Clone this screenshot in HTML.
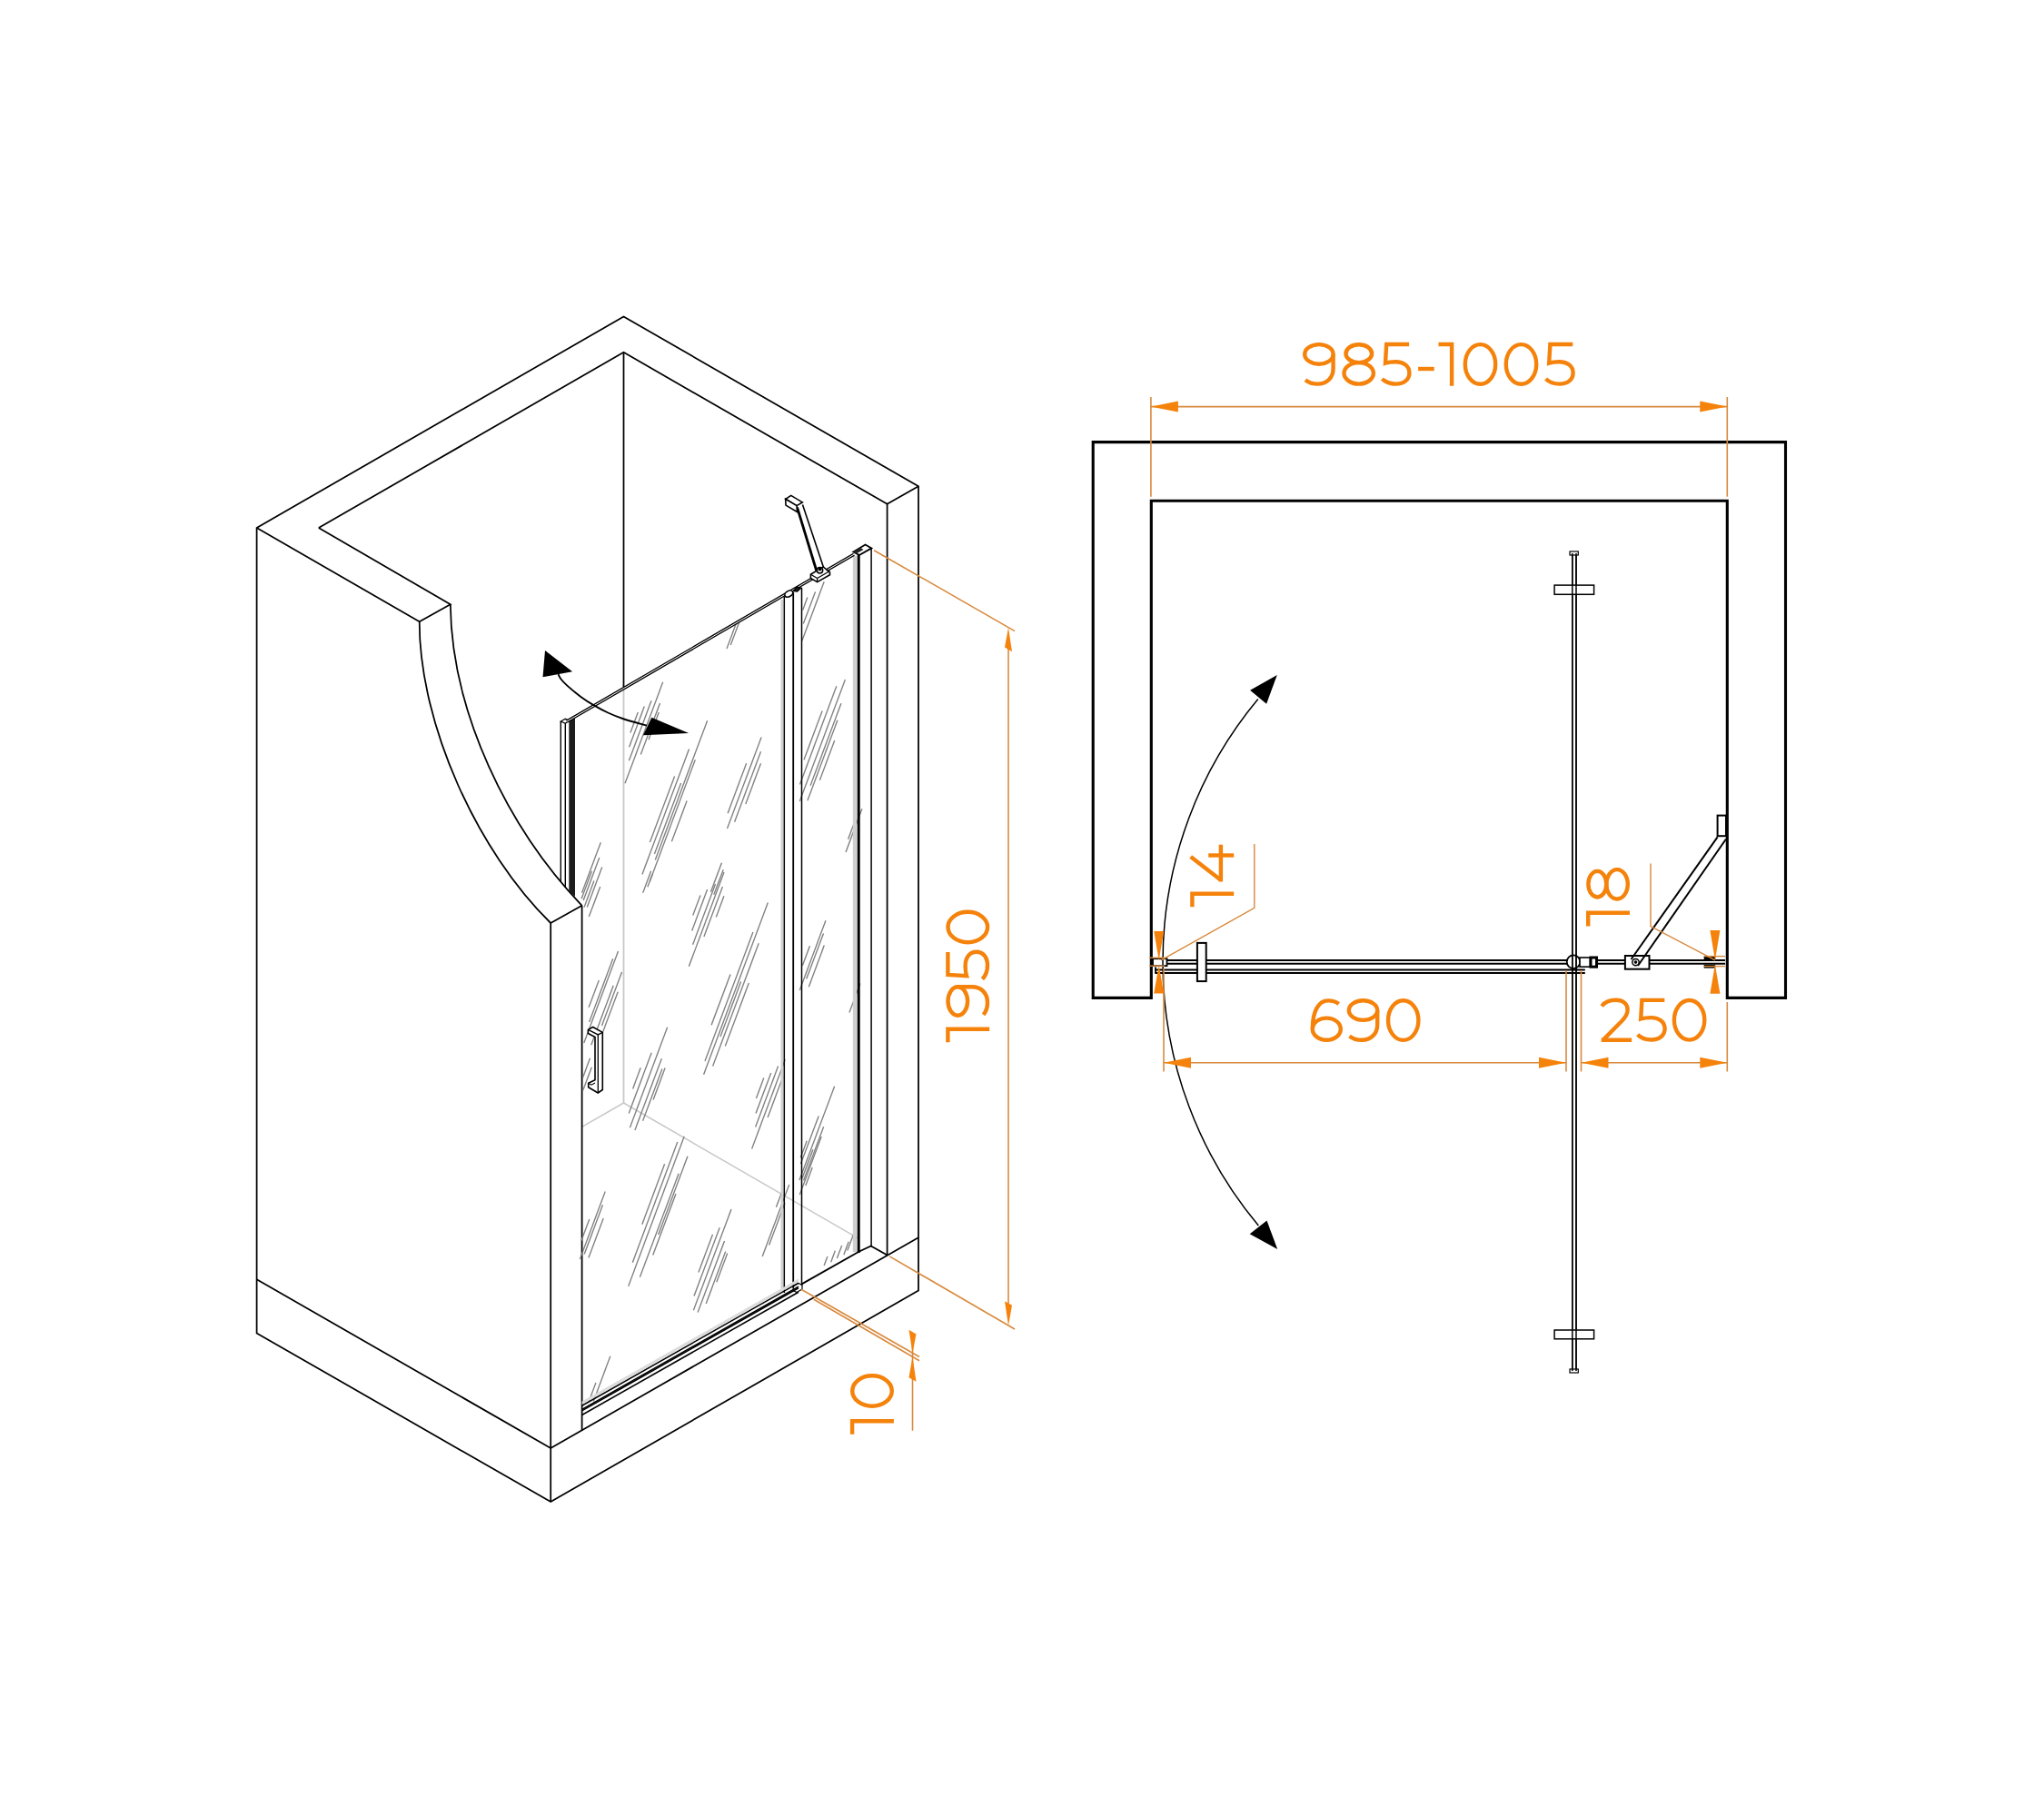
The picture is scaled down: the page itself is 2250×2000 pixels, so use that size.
<!DOCTYPE html>
<html><head><meta charset="utf-8"><style>
html,body{margin:0;padding:0;background:#fff;}
svg{display:block;}
text{font-family:"Liberation Sans",sans-serif;}
</style></head><body>
<svg width="2250" height="2000" viewBox="0 0 2250 2000">
<rect width="2250" height="2000" fill="#fff"/>
<line x1="686.5" y1="754" x2="686.5" y2="1214" stroke="#c8c8c8" stroke-width="1.8" />
<line x1="640.6" y1="1240.3" x2="686.5" y2="1214" stroke="#c8c8c8" stroke-width="1.5" />
<line x1="686.5" y1="1214" x2="944" y2="1362.6" stroke="#c8c8c8" stroke-width="1.5" />
<polygon points="282.6,581 686.5,348.4 1011,535.3 1011,1420.6 606.2,1653.1 282.6,1467.4" fill="none" stroke="#000" stroke-width="1.75" stroke-linejoin="miter" />
<polyline points="350.8,581 686.5,387.8 976.6,554.8 1011,535.3" fill="none" stroke="#000" stroke-width="1.75" stroke-linejoin="miter" />
<polyline points="282.6,581 461.7,684.2 495.8,665.2 350.8,581" fill="none" stroke="#000" stroke-width="1.75" stroke-linejoin="miter" />
<path d="M461.7,684.2 C461.6,797.8 526.3,938.1 606.2,1016" fill="none" stroke="#000" stroke-width="1.75" />
<path d="M495.8,665.2 C497.1,784.2 559,911.5 640.6,996.8" fill="none" stroke="#000" stroke-width="1.75" />
<line x1="606.2" y1="1016" x2="640.6" y2="996.8" stroke="#000" stroke-width="1.75" />
<line x1="606.2" y1="1016" x2="606.2" y2="1653.1" stroke="#000" stroke-width="1.75" />
<line x1="640.6" y1="996.8" x2="640.6" y2="1574.7" stroke="#000" stroke-width="1.75" />
<line x1="976.6" y1="554.8" x2="976.6" y2="1381.5" stroke="#000" stroke-width="1.75" />
<line x1="686.5" y1="387.8" x2="686.5" y2="756" stroke="#000" stroke-width="1.75" />
<polyline points="282.6,1408.2 606.2,1594 1010.9,1362.2" fill="none" stroke="#000" stroke-width="1.75" stroke-linejoin="miter" />
<line x1="800.0" y1="714.0" x2="810.5" y2="685.8" stroke="#808080" stroke-width="1.35" />
<line x1="804.3" y1="709.9" x2="814.0" y2="683.9" stroke="#808080" stroke-width="1.35" />
<line x1="688.0" y1="862.3" x2="729.7" y2="750.8" stroke="#808080" stroke-width="1.35" />
<line x1="692.4" y1="837.2" x2="717.0" y2="771.2" stroke="#808080" stroke-width="1.35" />
<line x1="692.6" y1="822.3" x2="709.3" y2="777.6" stroke="#808080" stroke-width="1.35" />
<line x1="693.9" y1="806.5" x2="702.3" y2="784.1" stroke="#808080" stroke-width="1.35" />
<line x1="705.3" y1="830.6" x2="726.5" y2="774.1" stroke="#808080" stroke-width="1.35" />
<line x1="714.0" y1="814.2" x2="725.3" y2="783.9" stroke="#808080" stroke-width="1.35" />
<line x1="706.9" y1="962.6" x2="758.5" y2="824.6" stroke="#808080" stroke-width="1.35" />
<line x1="715.4" y1="927.0" x2="742.6" y2="854.5" stroke="#808080" stroke-width="1.35" />
<line x1="715.2" y1="970.6" x2="765.3" y2="836.2" stroke="#808080" stroke-width="1.35" />
<line x1="721.3" y1="946.6" x2="778.6" y2="793.2" stroke="#808080" stroke-width="1.35" />
<line x1="739.4" y1="926.2" x2="756.1" y2="881.5" stroke="#808080" stroke-width="1.35" />
<line x1="720.4" y1="940.1" x2="749.6" y2="861.9" stroke="#808080" stroke-width="1.35" />
<line x1="800.5" y1="912.0" x2="838.1" y2="811.5" stroke="#808080" stroke-width="1.35" />
<line x1="801.1" y1="895.3" x2="821.6" y2="840.3" stroke="#808080" stroke-width="1.35" />
<line x1="808.6" y1="904.7" x2="837.5" y2="827.2" stroke="#808080" stroke-width="1.35" />
<line x1="820.8" y1="885.0" x2="837.5" y2="840.3" stroke="#808080" stroke-width="1.35" />
<line x1="880.3" y1="882.1" x2="930.4" y2="747.9" stroke="#808080" stroke-width="1.35" />
<line x1="888.9" y1="881.2" x2="921.9" y2="792.7" stroke="#808080" stroke-width="1.35" />
<line x1="880.5" y1="863.4" x2="920.8" y2="755.2" stroke="#808080" stroke-width="1.35" />
<line x1="885.0" y1="836.2" x2="905.1" y2="782.5" stroke="#808080" stroke-width="1.35" />
<line x1="902.4" y1="858.8" x2="918.7" y2="815.1" stroke="#808080" stroke-width="1.35" />
<line x1="892.1" y1="864.7" x2="925.9" y2="774.3" stroke="#808080" stroke-width="1.35" />
<line x1="882.9" y1="705.2" x2="907.2" y2="640.3" stroke="#808080" stroke-width="1.35" />
<line x1="884.3" y1="686.6" x2="897.5" y2="651.4" stroke="#808080" stroke-width="1.35" />
<line x1="883.7" y1="671.4" x2="888.8" y2="657.6" stroke="#808080" stroke-width="1.35" />
<line x1="640.5" y1="982.8" x2="661.3" y2="927.2" stroke="#808080" stroke-width="1.35" />
<line x1="642.2" y1="991.0" x2="659.8" y2="944.0" stroke="#808080" stroke-width="1.35" />
<line x1="646.3" y1="998.5" x2="662.7" y2="954.5" stroke="#808080" stroke-width="1.35" />
<line x1="640.1" y1="989.3" x2="651.5" y2="958.7" stroke="#808080" stroke-width="1.35" />
<line x1="643.1" y1="998.4" x2="653.9" y2="969.6" stroke="#808080" stroke-width="1.35" />
<line x1="648.3" y1="1009.1" x2="660.7" y2="975.9" stroke="#808080" stroke-width="1.35" />
<line x1="782.4" y1="981.8" x2="794.4" y2="949.8" stroke="#808080" stroke-width="1.35" />
<line x1="785.8" y1="984.8" x2="796.2" y2="957.2" stroke="#808080" stroke-width="1.35" />
<line x1="707.7" y1="982.8" x2="716.6" y2="958.7" stroke="#808080" stroke-width="1.35" />
<line x1="712.9" y1="976.2" x2="718.1" y2="962.3" stroke="#808080" stroke-width="1.35" />
<line x1="931.0" y1="938.1" x2="948.9" y2="890.2" stroke="#808080" stroke-width="1.35" />
<line x1="933.6" y1="923.8" x2="940.8" y2="904.5" stroke="#808080" stroke-width="1.35" />
<line x1="758.3" y1="1063.8" x2="797.0" y2="960.1" stroke="#808080" stroke-width="1.35" />
<line x1="762.6" y1="1039.7" x2="787.5" y2="972.9" stroke="#808080" stroke-width="1.35" />
<line x1="761.7" y1="1024.4" x2="778.6" y2="978.9" stroke="#808080" stroke-width="1.35" />
<line x1="762.7" y1="1007.6" x2="771.0" y2="985.4" stroke="#808080" stroke-width="1.35" />
<line x1="774.9" y1="1031.0" x2="795.4" y2="976.0" stroke="#808080" stroke-width="1.35" />
<line x1="788.3" y1="1009.5" x2="796.9" y2="986.3" stroke="#808080" stroke-width="1.35" />
<line x1="642.8" y1="1148.0" x2="680.5" y2="1047.1" stroke="#808080" stroke-width="1.35" />
<line x1="648.6" y1="1124.9" x2="674.7" y2="1055.2" stroke="#808080" stroke-width="1.35" />
<line x1="648.1" y1="1108.7" x2="659.3" y2="1078.9" stroke="#808080" stroke-width="1.35" />
<line x1="661.8" y1="1140.8" x2="680.2" y2="1091.7" stroke="#808080" stroke-width="1.35" />
<line x1="662.5" y1="1128.9" x2="684.5" y2="1070.1" stroke="#808080" stroke-width="1.35" />
<line x1="650.8" y1="1150.3" x2="675.2" y2="1084.7" stroke="#808080" stroke-width="1.35" />
<line x1="774.6" y1="1182.8" x2="845.3" y2="993.6" stroke="#808080" stroke-width="1.35" />
<line x1="776.0" y1="1168.0" x2="828.9" y2="1026.1" stroke="#808080" stroke-width="1.35" />
<line x1="783.1" y1="1128.2" x2="804.0" y2="1072.5" stroke="#808080" stroke-width="1.35" />
<line x1="784.6" y1="1173.6" x2="835.2" y2="1038.3" stroke="#808080" stroke-width="1.35" />
<line x1="798.3" y1="1151.5" x2="824.3" y2="1082.0" stroke="#808080" stroke-width="1.35" />
<line x1="793.0" y1="1141.1" x2="815.6" y2="1080.6" stroke="#808080" stroke-width="1.35" />
<line x1="693.4" y1="1241.2" x2="734.6" y2="1130.7" stroke="#808080" stroke-width="1.35" />
<line x1="696.6" y1="1198.5" x2="705.2" y2="1175.3" stroke="#808080" stroke-width="1.35" />
<line x1="698.9" y1="1244.0" x2="728.3" y2="1165.3" stroke="#808080" stroke-width="1.35" />
<line x1="707.6" y1="1233.8" x2="728.9" y2="1176.5" stroke="#808080" stroke-width="1.35" />
<line x1="692.2" y1="1225.4" x2="717.2" y2="1158.7" stroke="#808080" stroke-width="1.35" />
<line x1="719.1" y1="1210.4" x2="732.1" y2="1175.4" stroke="#808080" stroke-width="1.35" />
<line x1="827.6" y1="1264.6" x2="864.3" y2="1166.2" stroke="#808080" stroke-width="1.35" />
<line x1="831.6" y1="1240.4" x2="856.6" y2="1173.6" stroke="#808080" stroke-width="1.35" />
<line x1="832.0" y1="1225.6" x2="848.7" y2="1180.9" stroke="#808080" stroke-width="1.35" />
<line x1="832.4" y1="1208.9" x2="840.8" y2="1186.4" stroke="#808080" stroke-width="1.35" />
<line x1="845.1" y1="1229.9" x2="861.9" y2="1185.1" stroke="#808080" stroke-width="1.35" />
<line x1="880.3" y1="1090.1" x2="908.9" y2="1013.3" stroke="#808080" stroke-width="1.35" />
<line x1="887.7" y1="1077.5" x2="906.5" y2="1027.4" stroke="#808080" stroke-width="1.35" />
<line x1="890.3" y1="1086.2" x2="907.3" y2="1040.6" stroke="#808080" stroke-width="1.35" />
<line x1="883.4" y1="1062.8" x2="891.4" y2="1041.2" stroke="#808080" stroke-width="1.35" />
<line x1="880.0" y1="1299.0" x2="918.6" y2="1195.8" stroke="#808080" stroke-width="1.35" />
<line x1="881.4" y1="1281.1" x2="901.2" y2="1228.4" stroke="#808080" stroke-width="1.35" />
<line x1="884.5" y1="1299.6" x2="906.6" y2="1240.2" stroke="#808080" stroke-width="1.35" />
<line x1="886.8" y1="1304.9" x2="894.2" y2="1285.1" stroke="#808080" stroke-width="1.35" />
<line x1="934.9" y1="1114.5" x2="946.9" y2="1082.4" stroke="#808080" stroke-width="1.35" />
<line x1="638.4" y1="1385.9" x2="666.2" y2="1311.5" stroke="#808080" stroke-width="1.35" />
<line x1="647.9" y1="1384.6" x2="664.2" y2="1340.9" stroke="#808080" stroke-width="1.35" />
<line x1="639.9" y1="1365.8" x2="648.8" y2="1341.9" stroke="#808080" stroke-width="1.35" />
<line x1="643.2" y1="1380.5" x2="663.5" y2="1326.2" stroke="#808080" stroke-width="1.35" />
<line x1="691.7" y1="1415.7" x2="753.2" y2="1250.8" stroke="#808080" stroke-width="1.35" />
<line x1="696.3" y1="1389.8" x2="745.8" y2="1257.0" stroke="#808080" stroke-width="1.35" />
<line x1="704.4" y1="1405.7" x2="747.1" y2="1291.7" stroke="#808080" stroke-width="1.35" />
<line x1="706.8" y1="1347.8" x2="731.6" y2="1281.3" stroke="#808080" stroke-width="1.35" />
<line x1="718.7" y1="1381.6" x2="744.0" y2="1314.0" stroke="#808080" stroke-width="1.35" />
<line x1="724.7" y1="1359.0" x2="756.9" y2="1272.7" stroke="#808080" stroke-width="1.35" />
<line x1="763.4" y1="1442.3" x2="805.0" y2="1330.9" stroke="#808080" stroke-width="1.35" />
<line x1="764.0" y1="1426.6" x2="792.2" y2="1351.3" stroke="#808080" stroke-width="1.35" />
<line x1="768.9" y1="1400.5" x2="784.5" y2="1358.7" stroke="#808080" stroke-width="1.35" />
<line x1="768.1" y1="1444.6" x2="797.5" y2="1366.1" stroke="#808080" stroke-width="1.35" />
<line x1="777.2" y1="1435.1" x2="798.7" y2="1377.4" stroke="#808080" stroke-width="1.35" />
<line x1="788.8" y1="1411.3" x2="800.7" y2="1379.6" stroke="#808080" stroke-width="1.35" />
<line x1="839.2" y1="1383.1" x2="868.7" y2="1304.0" stroke="#808080" stroke-width="1.35" />
<line x1="846.6" y1="1370.6" x2="864.0" y2="1324.0" stroke="#808080" stroke-width="1.35" />
<line x1="854.4" y1="1328.8" x2="860.9" y2="1311.6" stroke="#808080" stroke-width="1.35" />
<line x1="880.3" y1="1314.9" x2="904.2" y2="1250.9" stroke="#808080" stroke-width="1.35" />
<line x1="883.1" y1="1296.7" x2="894.9" y2="1265.3" stroke="#808080" stroke-width="1.35" />
<line x1="881.2" y1="1274.3" x2="888.2" y2="1255.7" stroke="#808080" stroke-width="1.35" />
<line x1="907.1" y1="1393.0" x2="910.9" y2="1383.0" stroke="#808080" stroke-width="1.35" />
<line x1="914.7" y1="1389.3" x2="919.3" y2="1376.7" stroke="#808080" stroke-width="1.35" />
<line x1="921.3" y1="1385.1" x2="926.7" y2="1370.9" stroke="#808080" stroke-width="1.35" />
<line x1="928.8" y1="1381.3" x2="934.2" y2="1366.7" stroke="#808080" stroke-width="1.35" />
<line x1="932.8" y1="1376.6" x2="940.7" y2="1355.4" stroke="#808080" stroke-width="1.35" />
<line x1="653.3" y1="1542.5" x2="671.8" y2="1492.7" stroke="#808080" stroke-width="1.35" />
<line x1="648.1" y1="1543.0" x2="655.9" y2="1522.0" stroke="#808080" stroke-width="1.35" />
<line x1="641.7" y1="1200.3" x2="651.3" y2="1174.7" stroke="#808080" stroke-width="1.35" />
<line x1="641.5" y1="1186.2" x2="649.5" y2="1164.8" stroke="#808080" stroke-width="1.35" />
<rect x="859.5" y="660" width="2.6" height="758" fill="#cfcfcf"/>
<rect x="938.8" y="612" width="4.2" height="766" fill="#cfcfcf"/>
<line x1="617.3" y1="794" x2="617.3" y2="970" stroke="#000" stroke-width="1.4" />
<line x1="622.3" y1="796.5" x2="622.3" y2="976.5" stroke="#000" stroke-width="1.4" />
<polygon points="626.3,793 633,789.5 633,987 626.3,981" fill="#1c1c1c"/>
<polygon points="617.3,794 622.3,791.3 626.5,793.3 622.3,796.3" fill="none" stroke="#000" stroke-width="1.3" stroke-linejoin="miter" />
<line x1="624" y1="794.1053199999999" x2="940" y2="610.2565199999999" stroke="#000" stroke-width="3.5" />
<line x1="624" y1="794.1053199999999" x2="940" y2="610.2565199999999" stroke="#fff" stroke-width="1.0" />
<ellipse cx="868.3" cy="653.6" rx="4.8" ry="3.1" fill="#fff" stroke="#000" stroke-width="1.6" transform="rotate(-30 868.3 653.6)"/>
<polygon points="873.5,650.5 877.5,646.2 881.5,647.2 877.5,651" fill="#222" stroke="#000" stroke-width="1.6" stroke-linejoin="miter" />
<line x1="863.3" y1="657" x2="863.3" y2="1423" stroke="#000" stroke-width="1.5" />
<line x1="873.2" y1="652" x2="873.2" y2="1417.5" stroke="#000" stroke-width="1.8" />
<line x1="882.5" y1="647" x2="882.5" y2="1415" stroke="#000" stroke-width="1.5" />
<polygon points="939.3,607.4 952.5,599.5 959.4,603.4 945.9,611" fill="#fff" stroke="#000" stroke-width="1.8" stroke-linejoin="miter" />
<polygon points="939.3,607.4 947,602.8 950.5,605 942.5,609.6" fill="#222"/>
<line x1="945.2" y1="611" x2="945.2" y2="1379" stroke="#000" stroke-width="3" />
<line x1="959.1" y1="603.4" x2="959.1" y2="1372.4" stroke="#000" stroke-width="1.5" />
<polygon points="640.6,1551.3 879,1416.1 879,1417.8 640.6,1553.0" fill="#444"/>
<line x1="640.6" y1="1547.3" x2="879" y2="1412.1" stroke="#000" stroke-width="1.6" />
<line x1="640.6" y1="1551.3" x2="879" y2="1416.1" stroke="#000" stroke-width="1.4" />
<line x1="640.6" y1="1553.0" x2="879" y2="1417.8" stroke="#000" stroke-width="1.4" />
<line x1="640.6" y1="1557.5" x2="879" y2="1422.3" stroke="#000" stroke-width="1.6" />
<polygon points="640.6,1546 879,1411 879,1407.5 640.6,1542.5" fill="#dcdcdc"/>
<polygon points="873.2,1416 879,1412.5 883,1414.5 883,1419 877,1422.5 873.2,1420.5" fill="none" stroke="#000" stroke-width="1.2" stroke-linejoin="miter" />
<polyline points="882.5,1413.3 945.9,1377.5 958.7,1371.5 976.6,1381.5" fill="none" stroke="#000" stroke-width="1.9" stroke-linejoin="miter" />
<polygon points="647.4,1133.4 652.7,1130.5 663.3,1136.4 663.3,1199.5 658.2,1203 647.7,1196.8 647.7,1192.2 655,1188.8 655,1141.5 647.4,1137.5" fill="#fff" stroke="#000" stroke-width="1.6" stroke-linejoin="miter" />
<polyline points="647.4,1133.4 658.3,1138.9 663.3,1136.4" fill="none" stroke="#000" stroke-width="1.3" stroke-linejoin="miter" />
<line x1="658.3" y1="1138.9" x2="658.3" y2="1203" stroke="#000" stroke-width="1.3" />
<polyline points="647.7,1192.2 651,1194.2 655,1192" fill="none" stroke="#000" stroke-width="1.1" stroke-linejoin="miter" />
<polyline points="877.5,558.3 898.7,628" fill="none" stroke="#000" stroke-width="2.8" stroke-linejoin="miter" />
<polyline points="883.5,555.5 906.5,624.4" fill="none" stroke="#000" stroke-width="1.6" stroke-linejoin="miter" />
<polygon points="864.7,549.3 870.7,545.4 883.3,552.9 877,556.6" fill="#fff" stroke="#000" stroke-width="1.6" stroke-linejoin="miter" />
<polygon points="864.7,549.3 865,556.1 877.5,563.5 877,556.6" fill="#fff" stroke="#000" stroke-width="1.6" stroke-linejoin="miter" />
<polygon points="892.4,632.2 906.2,623.9 913.5,630.2 913.5,632.8 899.6,640.6 892.4,636.5" fill="#fff" stroke="#000" stroke-width="1.6" stroke-linejoin="miter" />
<line x1="892.4" y1="632.2" x2="899.6" y2="636.5" stroke="#000" stroke-width="1.3" />
<line x1="899.6" y1="636.5" x2="913.5" y2="628.5" stroke="#000" stroke-width="1.3" />
<line x1="899.6" y1="636.5" x2="899.6" y2="640.6" stroke="#000" stroke-width="1.3" />
<circle cx="902.5" cy="627.8" r="3.2" fill="#fff" stroke="#000" stroke-width="1.5"/>
<circle cx="902.5" cy="626.5" r="2" fill="#000"/>
<path d="M614.5,742 C615.0,742.9 615.9,745.4 617.5,747.5 C619.1,749.6 620.7,751.4 624.3,754.6 C627.9,757.8 634.3,763.2 639.3,766.9 C644.3,770.6 649.3,773.7 654.3,776.6 C659.3,779.5 663.8,782.0 669.2,784.5 C674.6,787.0 679.7,789.1 686.8,791.5 C693.9,793.9 707.8,797.4 712,798.6" fill="none" stroke="#000" stroke-width="1.9" />
<polygon points="600,716.1 630.1,739.2 597.5,745.3" fill="#000"/>
<polygon points="758.1,807.1 717.3,789.7 708,809.3" fill="#000"/>
<line x1="962" y1="605.7" x2="1117" y2="694.6" stroke="#D88A3E" stroke-width="1.6" />
<line x1="979.2" y1="1382.9" x2="1117" y2="1463" stroke="#D88A3E" stroke-width="1.6" />
<line x1="1110" y1="700" x2="1110" y2="1450" stroke="#D88A3E" stroke-width="1.6" />
<polygon points="1110,690.8 1106.0118,712.6092 1113.9882,717.1908" fill="#F5820A"/>
<polygon points="1110,1459.2 1106.0118,1432.2092 1113.9882,1436.7908" fill="#F5820A"/>
<path d="M0,2 H14.6 V47.8" transform="matrix(0,-1,1,0,1041.4,1147.3)" fill="none" stroke="#F5820A" stroke-width="4.4" stroke-linecap="butt" stroke-linejoin="miter" stroke-miterlimit="3"/>
<path d="M18,2.1 C26.7,2.1 33.7,6.9 33.7,12.9 C33.7,18.9 26.7,23.7 18,23.7 C9.3,23.7 2.3,18.9 2.3,12.9 C2.3,6.9 9.3,2.1 18,2.1 Z" transform="matrix(0,-1,1,0,1041.4,1120)" fill="none" stroke="#F5820A" stroke-width="4.4" stroke-linecap="butt" stroke-linejoin="miter" stroke-miterlimit="3"/>
<path d="M33.7,12.9 L33.7,28.5 C33.7,39 26.5,45.6 16.5,45.6 C10.8,45.6 6.6,44 3,41.2" transform="matrix(0,-1,1,0,1041.4,1120)" fill="none" stroke="#F5820A" stroke-width="4.4" stroke-linecap="butt" stroke-linejoin="miter" stroke-miterlimit="3"/>
<path d="M31.5,2 H6.6 L5.4,22.6 C8.5,21.6 12.5,21.2 16.5,21.2 C26,21.2 31.8,26.3 31.8,33.4 C31.8,41 25.5,45.6 17,45.6 C10.5,45.6 5.3,43.4 1.8,40" transform="matrix(0,-1,1,0,1041.4,1079.5)" fill="none" stroke="#F5820A" stroke-width="4.4" stroke-linecap="butt" stroke-linejoin="miter" stroke-miterlimit="3"/>
<path d="M19,2.1 C28.2,2.1 35.7,11.9 35.7,23.9 C35.7,35.9 28.2,45.7 19,45.7 C9.8,45.7 2.3,35.9 2.3,23.9 C2.3,11.9 9.8,2.1 19,2.1 Z" transform="matrix(0,-1,1,0,1041.4,1039.5)" fill="none" stroke="#F5820A" stroke-width="4.4" stroke-linecap="butt" stroke-linejoin="miter" stroke-miterlimit="3"/>
<line x1="882" y1="1419.2" x2="1012" y2="1493.5" stroke="#D88A3E" stroke-width="1.6" />
<line x1="895.8" y1="1430.2" x2="1012" y2="1497.7" stroke="#D88A3E" stroke-width="1.6" />
<line x1="1004.5" y1="1470" x2="1004.5" y2="1574.7" stroke="#D88A3E" stroke-width="1.6" />
<polygon points="1004.5,1489.6 1000.5118,1463.8092 1008.4882,1468.3908" fill="#F5820A"/>
<polygon points="1004.5,1493.4 1000.5118,1516.2092 1008.4882,1520.7908" fill="#F5820A"/>
<path d="M0,2 H14.6 V47.8" transform="matrix(0,-1,1,0,936.1,1578.8)" fill="none" stroke="#F5820A" stroke-width="4.4" stroke-linecap="butt" stroke-linejoin="miter" stroke-miterlimit="3"/>
<path d="M19,2.1 C28.2,2.1 35.7,11.9 35.7,23.9 C35.7,35.9 28.2,45.7 19,45.7 C9.8,45.7 2.3,35.9 2.3,23.9 C2.3,11.9 9.8,2.1 19,2.1 Z" transform="matrix(0,-1,1,0,936.1,1550.0)" fill="none" stroke="#F5820A" stroke-width="4.4" stroke-linecap="butt" stroke-linejoin="miter" stroke-miterlimit="3"/>
<path d="M1203.2,1098.4 V486.6 H1965.5 V1098.4 H1901.3 V551.3 H1267.3 V1098.4 Z" fill="none" stroke="#000" stroke-width="3.1" />
<line x1="1266.9" y1="437" x2="1266.9" y2="546.7" stroke="#D88A3E" stroke-width="1.6" />
<line x1="1901.3" y1="437" x2="1901.3" y2="546.7" stroke="#D88A3E" stroke-width="1.6" />
<line x1="1266.9" y1="447.6" x2="1901.3" y2="447.6" stroke="#D88A3E" stroke-width="1.6" />
<polygon points="1266.9,447.6 1296.9,441.6 1296.9,453.6" fill="#F5820A"/>
<polygon points="1901.3,447.6 1871.3,453.6 1871.3,441.6" fill="#F5820A"/>
<path d="M18,2.1 C26.7,2.1 33.7,6.9 33.7,12.9 C33.7,18.9 26.7,23.7 18,23.7 C9.3,23.7 2.3,18.9 2.3,12.9 C2.3,6.9 9.3,2.1 18,2.1 Z" transform="translate(1433.9 377)" fill="none" stroke="#F5820A" stroke-width="4.4" stroke-linecap="butt" stroke-linejoin="miter" stroke-miterlimit="3"/>
<path d="M33.7,12.9 L33.7,28.5 C33.7,39 26.5,45.6 16.5,45.6 C10.8,45.6 6.6,44 3,41.2" transform="translate(1433.9 377)" fill="none" stroke="#F5820A" stroke-width="4.4" stroke-linecap="butt" stroke-linejoin="miter" stroke-miterlimit="3"/>
<path d="M18.5,2.2 C26.4,2.2 32.8,6.7 32.8,12.15 C32.8,17.6 26.4,22.1 18.5,22.1 C10.6,22.1 4.2,17.6 4.2,12.15 C4.2,6.7 10.6,2.2 18.5,2.2 Z" transform="translate(1477.3 377)" fill="none" stroke="#F5820A" stroke-width="4.4" stroke-linecap="butt" stroke-linejoin="miter" stroke-miterlimit="3"/>
<path d="M18.4,22.1 C27.3,22.1 34.6,27.4 34.6,33.85 C34.6,40.3 27.3,45.6 18.4,45.6 C9.5,45.6 2.2,40.3 2.2,33.85 C2.2,27.4 9.5,22.1 18.4,22.1 Z" transform="translate(1477.3 377)" fill="none" stroke="#F5820A" stroke-width="4.4" stroke-linecap="butt" stroke-linejoin="miter" stroke-miterlimit="3"/>
<path d="M31.5,2 H6.6 L5.4,22.6 C8.5,21.6 12.5,21.2 16.5,21.2 C26,21.2 31.8,26.3 31.8,33.4 C31.8,41 25.5,45.6 17,45.6 C10.5,45.6 5.3,43.4 1.8,40" transform="translate(1519.6 377)" fill="none" stroke="#F5820A" stroke-width="4.4" stroke-linecap="butt" stroke-linejoin="miter" stroke-miterlimit="3"/>
<path d="M0,29 H17.6" transform="translate(1561.1 377)" fill="none" stroke="#F5820A" stroke-width="4.4" stroke-linecap="butt" stroke-linejoin="miter" stroke-miterlimit="3"/>
<path d="M0,2 H14.6 V47.8" transform="translate(1583.5 377)" fill="none" stroke="#F5820A" stroke-width="4.4" stroke-linecap="butt" stroke-linejoin="miter" stroke-miterlimit="3"/>
<path d="M19,2.1 C28.2,2.1 35.7,11.9 35.7,23.9 C35.7,35.9 28.2,45.7 19,45.7 C9.8,45.7 2.3,35.9 2.3,23.9 C2.3,11.9 9.8,2.1 19,2.1 Z" transform="translate(1610.5 377)" fill="none" stroke="#F5820A" stroke-width="4.4" stroke-linecap="butt" stroke-linejoin="miter" stroke-miterlimit="3"/>
<path d="M19,2.1 C28.2,2.1 35.7,11.9 35.7,23.9 C35.7,35.9 28.2,45.7 19,45.7 C9.8,45.7 2.3,35.9 2.3,23.9 C2.3,11.9 9.8,2.1 19,2.1 Z" transform="translate(1655.5 377)" fill="none" stroke="#F5820A" stroke-width="4.4" stroke-linecap="butt" stroke-linejoin="miter" stroke-miterlimit="3"/>
<path d="M31.5,2 H6.6 L5.4,22.6 C8.5,21.6 12.5,21.2 16.5,21.2 C26,21.2 31.8,26.3 31.8,33.4 C31.8,41 25.5,45.6 17,45.6 C10.5,45.6 5.3,43.4 1.8,40" transform="translate(1699.8 377)" fill="none" stroke="#F5820A" stroke-width="4.4" stroke-linecap="butt" stroke-linejoin="miter" stroke-miterlimit="3"/>
<line x1="1730.8" y1="609" x2="1730.8" y2="1509" stroke="#000" stroke-width="1.5" />
<line x1="1735" y1="609" x2="1735" y2="1509" stroke="#000" stroke-width="1.5" />
<rect x="1728" y="607" width="9.3" height="4" fill="#fff" stroke="#000" stroke-width="1.2"/>
<rect x="1711.1" y="644.1" width="43.5" height="10.2" fill="#fff" stroke="#000" stroke-width="1.5"/>
<rect x="1711.1" y="1464" width="43.5" height="9.8" fill="#fff" stroke="#000" stroke-width="1.5"/>
<rect x="1728" y="1507" width="9.3" height="4" fill="#fff" stroke="#000" stroke-width="1.2"/>
<line x1="1730.8" y1="609" x2="1730.8" y2="1509" stroke="#000" stroke-width="1.5" />
<line x1="1735" y1="609" x2="1735" y2="1509" stroke="#000" stroke-width="1.5" />
<line x1="1284.9" y1="1056.9" x2="1726" y2="1056.9" stroke="#000" stroke-width="2" />
<line x1="1284.9" y1="1060.8" x2="1726" y2="1060.8" stroke="#000" stroke-width="2" />
<line x1="1272" y1="1067.6" x2="1744.8" y2="1067.6" stroke="#000" stroke-width="2" />
<line x1="1272" y1="1070.9" x2="1744.8" y2="1070.9" stroke="#000" stroke-width="2" />
<line x1="1757" y1="1056.9" x2="1899" y2="1056.9" stroke="#000" stroke-width="2" />
<line x1="1757" y1="1060.8" x2="1899" y2="1060.8" stroke="#000" stroke-width="2" />
<circle cx="1732" cy="1058.7" r="7.3" fill="none" stroke="#000" stroke-width="1.8"/>
<rect x="1739" y="1054" width="11.5" height="10.2" fill="#fff" stroke="#000" stroke-width="1.6"/>
<rect x="1751" y="1054" width="6.5" height="10.2" fill="#fff" stroke="#000" stroke-width="3"/>
<rect x="1875.7" y="1052.4" width="12.5" height="3.8" fill="#000"/>
<rect x="1875.7" y="1061.8" width="12.5" height="3.8" fill="#000"/>
<rect x="1788.9" y="1052" width="26.6" height="14.7" fill="#fff" stroke="#000" stroke-width="2"/>
<rect x="1890.6" y="897.6" width="9.4" height="22.6" fill="#fff" stroke="#000" stroke-width="2"/>
<rect x="1317.9" y="1037.9" width="9.8" height="42.2" fill="#fff" stroke="#000" stroke-width="2"/>
<rect x="1269" y="1055.2" width="15.5" height="8" fill="none" stroke="#000" stroke-width="1.8"/>
<line x1="1272" y1="1064.5" x2="1272" y2="1071.8" stroke="#000" stroke-width="1.8" />
<line x1="1795.5" y1="1056" x2="1890.6" y2="921.3" stroke="#000" stroke-width="2" />
<line x1="1803" y1="1063" x2="1900" y2="923.5" stroke="#000" stroke-width="2" />
<circle cx="1800.5" cy="1059.1" r="3.7" fill="#fff" stroke="#000" stroke-width="1.5"/>
<circle cx="1800.5" cy="1059.1" r="1.8" fill="#000"/>
<path d="M1384.8,769.6 A452,452 0 0 0 1385.3,1349.0" fill="none" stroke="#000" stroke-width="1.5" />
<polygon points="1405.8,743.1 1376.1,759.8 1394.1,774.7" fill="#000"/>
<polygon points="1406.2,1375.1 1375.7,1358.3 1394.5,1343.4" fill="#000"/>
<line x1="1281" y1="1066" x2="1281" y2="1179.5" stroke="#D88A3E" stroke-width="1.6" />
<line x1="1724" y1="1068" x2="1724" y2="1179.5" stroke="#D88A3E" stroke-width="1.6" />
<line x1="1740.5" y1="1068" x2="1740.5" y2="1179.5" stroke="#D88A3E" stroke-width="1.6" />
<line x1="1901.3" y1="1103" x2="1901.3" y2="1179.5" stroke="#D88A3E" stroke-width="1.6" />
<line x1="1281" y1="1169.7" x2="1724" y2="1169.7" stroke="#D88A3E" stroke-width="1.6" />
<line x1="1740.5" y1="1169.7" x2="1901.3" y2="1169.7" stroke="#D88A3E" stroke-width="1.6" />
<polygon points="1281,1169.7 1311.0,1163.7 1311.0,1175.7" fill="#F5820A"/>
<polygon points="1724,1169.7 1694.0,1175.7 1694.0,1163.7" fill="#F5820A"/>
<polygon points="1740.5,1169.7 1770.5,1163.7 1770.5,1175.7" fill="#F5820A"/>
<polygon points="1901.3,1169.7 1871.3,1175.7 1871.3,1163.7" fill="#F5820A"/>
<path d="M17.8,21.4 C26.4,21.4 33.3,26.8 33.3,33.5 C33.3,40.2 26.4,45.6 17.8,45.6 C9.2,45.6 2.3,40.2 2.3,33.5 C2.3,26.8 9.2,21.4 17.8,21.4 Z" transform="translate(1442.5 1099.2)" fill="none" stroke="#F5820A" stroke-width="4.4" stroke-linecap="butt" stroke-linejoin="miter" stroke-miterlimit="3"/>
<path d="M2.3,33.5 C2.3,13.5 9,2.2 19.5,2.2 C24.5,2.2 28,3.4 31.2,5.8" transform="translate(1442.5 1099.2)" fill="none" stroke="#F5820A" stroke-width="4.4" stroke-linecap="butt" stroke-linejoin="miter" stroke-miterlimit="3"/>
<path d="M18,2.1 C26.7,2.1 33.7,6.9 33.7,12.9 C33.7,18.9 26.7,23.7 18,23.7 C9.3,23.7 2.3,18.9 2.3,12.9 C2.3,6.9 9.3,2.1 18,2.1 Z" transform="translate(1482.5 1099.2)" fill="none" stroke="#F5820A" stroke-width="4.4" stroke-linecap="butt" stroke-linejoin="miter" stroke-miterlimit="3"/>
<path d="M33.7,12.9 L33.7,28.5 C33.7,39 26.5,45.6 16.5,45.6 C10.8,45.6 6.6,44 3,41.2" transform="translate(1482.5 1099.2)" fill="none" stroke="#F5820A" stroke-width="4.4" stroke-linecap="butt" stroke-linejoin="miter" stroke-miterlimit="3"/>
<path d="M19,2.1 C28.2,2.1 35.7,11.9 35.7,23.9 C35.7,35.9 28.2,45.7 19,45.7 C9.8,45.7 2.3,35.9 2.3,23.9 C2.3,11.9 9.8,2.1 19,2.1 Z" transform="translate(1525.7 1099.2)" fill="none" stroke="#F5820A" stroke-width="4.4" stroke-linecap="butt" stroke-linejoin="miter" stroke-miterlimit="3"/>
<path d="M1.8,8.6 C4.8,4.3 10,1.9 17.3,1.9 C25.3,1.9 30.2,6.2 30.2,12.7 C30.2,16.8 28.5,20.3 24,24.8 L3.6,45.5" transform="translate(1761.4 1098.9)" fill="none" stroke="#F5820A" stroke-width="4.4" stroke-linecap="butt" stroke-linejoin="miter" stroke-miterlimit="3"/>
<path d="M1.3,45.9 H34.7" transform="translate(1761.4 1098.9)" fill="none" stroke="#F5820A" stroke-width="4.4" stroke-linecap="butt" stroke-linejoin="miter" stroke-miterlimit="3"/>
<path d="M31.5,2 H6.6 L5.4,22.6 C8.5,21.6 12.5,21.2 16.5,21.2 C26,21.2 31.8,26.3 31.8,33.4 C31.8,41 25.5,45.6 17,45.6 C10.5,45.6 5.3,43.4 1.8,40" transform="translate(1800.8 1098.9)" fill="none" stroke="#F5820A" stroke-width="4.4" stroke-linecap="butt" stroke-linejoin="miter" stroke-miterlimit="3"/>
<path d="M19,2.1 C28.2,2.1 35.7,11.9 35.7,23.9 C35.7,35.9 28.2,45.7 19,45.7 C9.8,45.7 2.3,35.9 2.3,23.9 C2.3,11.9 9.8,2.1 19,2.1 Z" transform="translate(1840.6 1098.9)" fill="none" stroke="#F5820A" stroke-width="4.4" stroke-linecap="butt" stroke-linejoin="miter" stroke-miterlimit="3"/>
<line x1="1265.3" y1="1054.2" x2="1281.8" y2="1054.2" stroke="#D88A3E" stroke-width="1.4" />
<line x1="1265.3" y1="1063.2" x2="1281.8" y2="1063.2" stroke="#D88A3E" stroke-width="1.4" />
<polygon points="1275.7,1056.9 1270.2,1024.9 1281.2,1024.9" fill="#F5820A"/>
<polygon points="1275.7,1062.4 1281.2,1093.4 1270.2,1093.4" fill="#F5820A"/>
<polyline points="1278.1,1056.9 1380.8,999.4 1380.8,929" fill="none" stroke="#D88A3E" stroke-width="1.4" stroke-linejoin="miter" />
<path d="M0,2 H14.6 V47.8" transform="matrix(0,-1,1,0,1310.4,998.3)" fill="none" stroke="#F5820A" stroke-width="4.4" stroke-linecap="butt" stroke-linejoin="miter" stroke-miterlimit="3"/>
<path d="M27.6,0.3 L2,33.2" transform="matrix(0,-1,1,0,1310.4,970.5)" fill="none" stroke="#F5820A" stroke-width="4.4" stroke-linecap="butt" stroke-linejoin="miter" stroke-miterlimit="3"/>
<path d="M0,33.5 H40.8" transform="matrix(0,-1,1,0,1310.4,970.5)" fill="none" stroke="#F5820A" stroke-width="4.4" stroke-linecap="butt" stroke-linejoin="miter" stroke-miterlimit="3"/>
<path d="M29,19.8 V47.8" transform="matrix(0,-1,1,0,1310.4,970.5)" fill="none" stroke="#F5820A" stroke-width="4.4" stroke-linecap="butt" stroke-linejoin="miter" stroke-miterlimit="3"/>
<line x1="1875.7" y1="1052.6" x2="1899" y2="1052.6" stroke="#D88A3E" stroke-width="1.4" />
<line x1="1875.7" y1="1063.6" x2="1899" y2="1063.6" stroke="#D88A3E" stroke-width="1.4" />
<polygon points="1887.9,1056.9 1882.4,1023.9000000000001 1893.4,1023.9000000000001" fill="#F5820A"/>
<polygon points="1887.9,1061.8 1893.4,1093.8 1882.4,1093.8" fill="#F5820A"/>
<polyline points="1887.9,1056.9 1817,1019.6 1817,950.5" fill="none" stroke="#D88A3E" stroke-width="1.4" stroke-linejoin="miter" />
<path d="M0,2 H14.6 V47.8" transform="matrix(0,-1,1,0,1746.2,1019.4000000000001)" fill="none" stroke="#F5820A" stroke-width="4.4" stroke-linecap="butt" stroke-linejoin="miter" stroke-miterlimit="3"/>
<path d="M18.5,2.2 C26.4,2.2 32.8,6.7 32.8,12.15 C32.8,17.6 26.4,22.1 18.5,22.1 C10.6,22.1 4.2,17.6 4.2,12.15 C4.2,6.7 10.6,2.2 18.5,2.2 Z" transform="matrix(0,-1,1,0,1746.2,991.7)" fill="none" stroke="#F5820A" stroke-width="4.4" stroke-linecap="butt" stroke-linejoin="miter" stroke-miterlimit="3"/>
<path d="M18.4,22.1 C27.3,22.1 34.6,27.4 34.6,33.85 C34.6,40.3 27.3,45.6 18.4,45.6 C9.5,45.6 2.2,40.3 2.2,33.85 C2.2,27.4 9.5,22.1 18.4,22.1 Z" transform="matrix(0,-1,1,0,1746.2,991.7)" fill="none" stroke="#F5820A" stroke-width="4.4" stroke-linecap="butt" stroke-linejoin="miter" stroke-miterlimit="3"/>
</svg>
</body></html>
